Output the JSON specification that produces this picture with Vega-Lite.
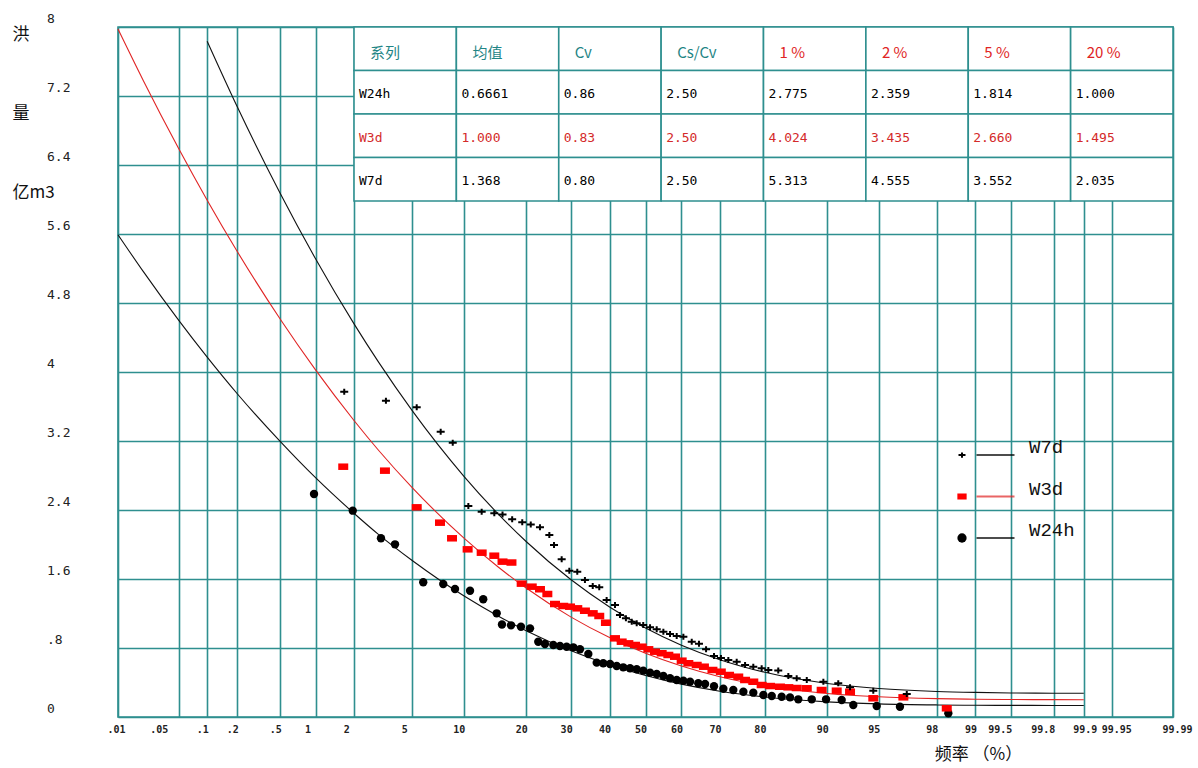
{
  "$schema": "https://vega.github.io/schema/vega-lite/v6.json",
  "width": 1055,
  "height": 690,
  "autosize": {"type": "none"},
  "padding": {"left": 118, "top": 27, "right": 25, "bottom": 51},
  "background": "white",
  "config": {"view": {"stroke": "#2e8f8f", "strokeWidth": 1.6}},
  "datasets": {
    "curves": [
      {"series": "W7d", "p": 0.1, "z": -3.0902, "value": 7.834},
      {"series": "W7d", "p": 0.2, "z": -2.8782, "value": 7.075},
      {"series": "W7d", "p": 0.5, "z": -2.5758, "value": 6.072},
      {"series": "W7d", "p": 1, "z": -2.3263, "value": 5.313},
      {"series": "W7d", "p": 2, "z": -2.0537, "value": 4.555},
      {"series": "W7d", "p": 3, "z": -1.8808, "value": 4.111},
      {"series": "W7d", "p": 5, "z": -1.6449, "value": 3.552},
      {"series": "W7d", "p": 10, "z": -1.2816, "value": 2.794},
      {"series": "W7d", "p": 15, "z": -1.0364, "value": 2.35},
      {"series": "W7d", "p": 20, "z": -0.8416, "value": 2.035},
      {"series": "W7d", "p": 30, "z": -0.5244, "value": 1.591},
      {"series": "W7d", "p": 40, "z": -0.2533, "value": 1.276},
      {"series": "W7d", "p": 50, "z": 0, "value": 1.032},
      {"series": "W7d", "p": 60, "z": 0.2533, "value": 0.833},
      {"series": "W7d", "p": 70, "z": 0.5244, "value": 0.664},
      {"series": "W7d", "p": 80, "z": 0.8416, "value": 0.518},
      {"series": "W7d", "p": 90, "z": 1.2816, "value": 0.389},
      {"series": "W7d", "p": 95, "z": 1.6449, "value": 0.33},
      {"series": "W7d", "p": 98, "z": 2.0537, "value": 0.296},
      {"series": "W7d", "p": 99, "z": 2.3263, "value": 0.285},
      {"series": "W7d", "p": 99.5, "z": 2.5758, "value": 0.279},
      {"series": "W7d", "p": 99.8, "z": 2.8782, "value": 0.276},
      {"series": "W7d", "p": 99.9, "z": 3.0902, "value": 0.275},
      {"series": "W3d", "p": 0.01, "z": -3.719, "value": 7.976},
      {"series": "W3d", "p": 0.02, "z": -3.5401, "value": 7.377},
      {"series": "W3d", "p": 0.05, "z": -3.2905, "value": 6.588},
      {"series": "W3d", "p": 0.1, "z": -3.0902, "value": 5.992},
      {"series": "W3d", "p": 0.2, "z": -2.8782, "value": 5.397},
      {"series": "W3d", "p": 0.5, "z": -2.5758, "value": 4.614},
      {"series": "W3d", "p": 1, "z": -2.3263, "value": 4.024},
      {"series": "W3d", "p": 2, "z": -2.0537, "value": 3.435},
      {"series": "W3d", "p": 3, "z": -1.8808, "value": 3.09},
      {"series": "W3d", "p": 5, "z": -1.6449, "value": 2.66},
      {"series": "W3d", "p": 10, "z": -1.2816, "value": 2.076},
      {"series": "W3d", "p": 15, "z": -1.0364, "value": 1.736},
      {"series": "W3d", "p": 20, "z": -0.8416, "value": 1.495},
      {"series": "W3d", "p": 30, "z": -0.5244, "value": 1.158},
      {"series": "W3d", "p": 40, "z": -0.2533, "value": 0.921},
      {"series": "W3d", "p": 50, "z": 0, "value": 0.738},
      {"series": "W3d", "p": 60, "z": 0.2533, "value": 0.591},
      {"series": "W3d", "p": 70, "z": 0.5244, "value": 0.467},
      {"series": "W3d", "p": 80, "z": 0.8416, "value": 0.363},
      {"series": "W3d", "p": 90, "z": 1.2816, "value": 0.273},
      {"series": "W3d", "p": 95, "z": 1.6449, "value": 0.234},
      {"series": "W3d", "p": 98, "z": 2.0537, "value": 0.213},
      {"series": "W3d", "p": 99, "z": 2.3263, "value": 0.206},
      {"series": "W3d", "p": 99.5, "z": 2.5758, "value": 0.203},
      {"series": "W3d", "p": 99.8, "z": 2.8782, "value": 0.201},
      {"series": "W3d", "p": 99.9, "z": 3.0902, "value": 0.2},
      {"series": "W24h", "p": 0.01, "z": -3.719, "value": 5.592},
      {"series": "W24h", "p": 0.02, "z": -3.5401, "value": 5.163},
      {"series": "W24h", "p": 0.05, "z": -3.2905, "value": 4.598},
      {"series": "W24h", "p": 0.1, "z": -3.0902, "value": 4.172},
      {"series": "W24h", "p": 0.2, "z": -2.8782, "value": 3.748},
      {"series": "W24h", "p": 0.5, "z": -2.5758, "value": 3.196},
      {"series": "W24h", "p": 1, "z": -2.3263, "value": 2.775},
      {"series": "W24h", "p": 2, "z": -2.0537, "value": 2.359},
      {"series": "W24h", "p": 3, "z": -1.8808, "value": 2.114},
      {"series": "W24h", "p": 5, "z": -1.6449, "value": 1.814},
      {"series": "W24h", "p": 10, "z": -1.2816, "value": 1.405},
      {"series": "W24h", "p": 15, "z": -1.0364, "value": 1.168},
      {"series": "W24h", "p": 20, "z": -0.8416, "value": 1.0},
      {"series": "W24h", "p": 30, "z": -0.5244, "value": 0.767},
      {"series": "W24h", "p": 40, "z": -0.2533, "value": 0.605},
      {"series": "W24h", "p": 50, "z": 0, "value": 0.481},
      {"series": "W24h", "p": 60, "z": 0.2533, "value": 0.381},
      {"series": "W24h", "p": 70, "z": 0.5244, "value": 0.299},
      {"series": "W24h", "p": 80, "z": 0.8416, "value": 0.232},
      {"series": "W24h", "p": 90, "z": 1.2816, "value": 0.175},
      {"series": "W24h", "p": 95, "z": 1.6449, "value": 0.152},
      {"series": "W24h", "p": 98, "z": 2.0537, "value": 0.14},
      {"series": "W24h", "p": 99, "z": 2.3263, "value": 0.136},
      {"series": "W24h", "p": 99.5, "z": 2.5758, "value": 0.135},
      {"series": "W24h", "p": 99.8, "z": 2.8782, "value": 0.134},
      {"series": "W24h", "p": 99.9, "z": 3.0902, "value": 0.133}
    ],
    "points": [
      {"series": "W24h", "z": -2.337, "value": 2.586},
      {"series": "W24h", "z": -2.064, "value": 2.392},
      {"series": "W24h", "z": -1.865, "value": 2.072},
      {"series": "W24h", "z": -1.766, "value": 2.002},
      {"series": "W24h", "z": -1.567, "value": 1.562},
      {"series": "W24h", "z": -1.426, "value": 1.542},
      {"series": "W24h", "z": -1.343, "value": 1.484},
      {"series": "W24h", "z": -1.237, "value": 1.464},
      {"series": "W24h", "z": -1.144, "value": 1.365},
      {"series": "W24h", "z": -1.049, "value": 1.202},
      {"series": "W24h", "z": -1.012, "value": 1.072},
      {"series": "W24h", "z": -0.948, "value": 1.063},
      {"series": "W24h", "z": -0.878, "value": 1.047},
      {"series": "W24h", "z": -0.814, "value": 1.028},
      {"series": "W24h", "z": -0.756, "value": 0.873},
      {"series": "W24h", "z": -0.709, "value": 0.846},
      {"series": "W24h", "z": -0.65, "value": 0.835},
      {"series": "W24h", "z": -0.603, "value": 0.823},
      {"series": "W24h", "z": -0.556, "value": 0.815},
      {"series": "W24h", "z": -0.509, "value": 0.808},
      {"series": "W24h", "z": -0.462, "value": 0.785},
      {"series": "W24h", "z": -0.403, "value": 0.73},
      {"series": "W24h", "z": -0.344, "value": 0.63},
      {"series": "W24h", "z": -0.298, "value": 0.623},
      {"series": "W24h", "z": -0.25, "value": 0.615},
      {"series": "W24h", "z": -0.203, "value": 0.591},
      {"series": "W24h", "z": -0.157, "value": 0.576},
      {"series": "W24h", "z": -0.109, "value": 0.565},
      {"series": "W24h", "z": -0.062, "value": 0.553},
      {"series": "W24h", "z": -0.016, "value": 0.537},
      {"series": "W24h", "z": 0.032, "value": 0.514},
      {"series": "W24h", "z": 0.079, "value": 0.499},
      {"series": "W24h", "z": 0.126, "value": 0.475},
      {"series": "W24h", "z": 0.173, "value": 0.449},
      {"series": "W24h", "z": 0.22, "value": 0.429},
      {"series": "W24h", "z": 0.267, "value": 0.421},
      {"series": "W24h", "z": 0.314, "value": 0.409},
      {"series": "W24h", "z": 0.372, "value": 0.391},
      {"series": "W24h", "z": 0.42, "value": 0.383},
      {"series": "W24h", "z": 0.483, "value": 0.356},
      {"series": "W24h", "z": 0.549, "value": 0.327},
      {"series": "W24h", "z": 0.619, "value": 0.313},
      {"series": "W24h", "z": 0.69, "value": 0.293},
      {"series": "W24h", "z": 0.76, "value": 0.282},
      {"series": "W24h", "z": 0.831, "value": 0.255},
      {"series": "W24h", "z": 0.89, "value": 0.244},
      {"series": "W24h", "z": 0.96, "value": 0.235},
      {"series": "W24h", "z": 1.019, "value": 0.228},
      {"series": "W24h", "z": 1.077, "value": 0.205},
      {"series": "W24h", "z": 1.172, "value": 0.205},
      {"series": "W24h", "z": 1.273, "value": 0.205},
      {"series": "W24h", "z": 1.383, "value": 0.197},
      {"series": "W24h", "z": 1.465, "value": 0.139},
      {"series": "W24h", "z": 1.63, "value": 0.128},
      {"series": "W24h", "z": 1.794, "value": 0.119},
      {"series": "W24h", "z": 2.135, "value": 0.043},
      {"series": "W3d", "z": -2.131, "value": 2.902},
      {"series": "W3d", "z": -1.837, "value": 2.856},
      {"series": "W3d", "z": -1.613, "value": 2.431},
      {"series": "W3d", "z": -1.449, "value": 2.253},
      {"series": "W3d", "z": -1.364, "value": 2.072},
      {"series": "W3d", "z": -1.254, "value": 1.944},
      {"series": "W3d", "z": -1.155, "value": 1.905},
      {"series": "W3d", "z": -1.066, "value": 1.87},
      {"series": "W3d", "z": -1.008, "value": 1.801},
      {"series": "W3d", "z": -0.945, "value": 1.791},
      {"series": "W3d", "z": -0.873, "value": 1.546},
      {"series": "W3d", "z": -0.802, "value": 1.511},
      {"series": "W3d", "z": -0.744, "value": 1.481},
      {"series": "W3d", "z": -0.692, "value": 1.426},
      {"series": "W3d", "z": -0.638, "value": 1.31},
      {"series": "W3d", "z": -0.58, "value": 1.287},
      {"series": "W3d", "z": -0.532, "value": 1.279},
      {"series": "W3d", "z": -0.481, "value": 1.26},
      {"series": "W3d", "z": -0.427, "value": 1.232},
      {"series": "W3d", "z": -0.372, "value": 1.202},
      {"series": "W3d", "z": -0.326, "value": 1.171},
      {"series": "W3d", "z": -0.279, "value": 1.093},
      {"series": "W3d", "z": -0.215, "value": 0.912},
      {"series": "W3d", "z": -0.168, "value": 0.873},
      {"series": "W3d", "z": -0.121, "value": 0.854},
      {"series": "W3d", "z": -0.074, "value": 0.835},
      {"series": "W3d", "z": -0.027, "value": 0.815},
      {"series": "W3d", "z": 0.02, "value": 0.785},
      {"series": "W3d", "z": 0.067, "value": 0.757},
      {"series": "W3d", "z": 0.114, "value": 0.739},
      {"series": "W3d", "z": 0.161, "value": 0.719},
      {"series": "W3d", "z": 0.208, "value": 0.699},
      {"series": "W3d", "z": 0.255, "value": 0.653},
      {"series": "W3d", "z": 0.302, "value": 0.623},
      {"series": "W3d", "z": 0.361, "value": 0.603},
      {"series": "W3d", "z": 0.412, "value": 0.583},
      {"series": "W3d", "z": 0.472, "value": 0.545},
      {"series": "W3d", "z": 0.531, "value": 0.525},
      {"series": "W3d", "z": 0.589, "value": 0.487},
      {"series": "W3d", "z": 0.654, "value": 0.467},
      {"series": "W3d", "z": 0.702, "value": 0.429},
      {"series": "W3d", "z": 0.76, "value": 0.409},
      {"series": "W3d", "z": 0.819, "value": 0.371},
      {"series": "W3d", "z": 0.878, "value": 0.359},
      {"series": "W3d", "z": 0.948, "value": 0.351},
      {"series": "W3d", "z": 1.007, "value": 0.344},
      {"series": "W3d", "z": 1.066, "value": 0.336},
      {"series": "W3d", "z": 1.137, "value": 0.333},
      {"series": "W3d", "z": 1.242, "value": 0.313},
      {"series": "W3d", "z": 1.348, "value": 0.305},
      {"series": "W3d", "z": 1.442, "value": 0.293},
      {"series": "W3d", "z": 1.606, "value": 0.217},
      {"series": "W3d", "z": 1.818, "value": 0.228},
      {"series": "W3d", "z": 2.124, "value": 0.101},
      {"series": "W7d", "z": -2.124, "value": 3.772},
      {"series": "W7d", "z": -1.83, "value": 3.667},
      {"series": "W7d", "z": -1.613, "value": 3.591},
      {"series": "W7d", "z": -1.444, "value": 3.308},
      {"series": "W7d", "z": -1.359, "value": 3.18},
      {"series": "W7d", "z": -1.249, "value": 2.446},
      {"series": "W7d", "z": -1.155, "value": 2.38},
      {"series": "W7d", "z": -1.066, "value": 2.362},
      {"series": "W7d", "z": -1.008, "value": 2.348},
      {"series": "W7d", "z": -0.94, "value": 2.292},
      {"series": "W7d", "z": -0.869, "value": 2.259},
      {"series": "W7d", "z": -0.809, "value": 2.232},
      {"series": "W7d", "z": -0.744, "value": 2.199},
      {"series": "W7d", "z": -0.678, "value": 2.11},
      {"series": "W7d", "z": -0.645, "value": 1.994},
      {"series": "W7d", "z": -0.591, "value": 1.828},
      {"series": "W7d", "z": -0.537, "value": 1.696},
      {"series": "W7d", "z": -0.481, "value": 1.685},
      {"series": "W7d", "z": -0.427, "value": 1.588},
      {"series": "W7d", "z": -0.372, "value": 1.519},
      {"series": "W7d", "z": -0.326, "value": 1.504},
      {"series": "W7d", "z": -0.274, "value": 1.357},
      {"series": "W7d", "z": -0.215, "value": 1.299},
      {"series": "W7d", "z": -0.18, "value": 1.183},
      {"series": "W7d", "z": -0.138, "value": 1.144},
      {"series": "W7d", "z": -0.097, "value": 1.105},
      {"series": "W7d", "z": -0.062, "value": 1.086},
      {"series": "W7d", "z": -0.016, "value": 1.067},
      {"series": "W7d", "z": 0.032, "value": 1.04},
      {"series": "W7d", "z": 0.079, "value": 1.017},
      {"series": "W7d", "z": 0.126, "value": 0.989},
      {"series": "W7d", "z": 0.173, "value": 0.962},
      {"series": "W7d", "z": 0.22, "value": 0.939},
      {"series": "W7d", "z": 0.267, "value": 0.93},
      {"series": "W7d", "z": 0.326, "value": 0.873},
      {"series": "W7d", "z": 0.377, "value": 0.85},
      {"series": "W7d", "z": 0.427, "value": 0.785},
      {"series": "W7d", "z": 0.483, "value": 0.707},
      {"series": "W7d", "z": 0.532, "value": 0.684},
      {"series": "W7d", "z": 0.584, "value": 0.661},
      {"series": "W7d", "z": 0.643, "value": 0.641},
      {"series": "W7d", "z": 0.702, "value": 0.603},
      {"series": "W7d", "z": 0.76, "value": 0.583},
      {"series": "W7d", "z": 0.819, "value": 0.565},
      {"series": "W7d", "z": 0.866, "value": 0.545},
      {"series": "W7d", "z": 0.936, "value": 0.54},
      {"series": "W7d", "z": 1.007, "value": 0.475},
      {"series": "W7d", "z": 1.066, "value": 0.449},
      {"series": "W7d", "z": 1.137, "value": 0.429},
      {"series": "W7d", "z": 1.254, "value": 0.409},
      {"series": "W7d", "z": 1.359, "value": 0.391},
      {"series": "W7d", "z": 1.442, "value": 0.344},
      {"series": "W7d", "z": 1.606, "value": 0.305},
      {"series": "W7d", "z": 1.842, "value": 0.267}
    ],
    "table": [
      {"row": "h", "col": "c1", "text": "系列"},
      {"row": "h", "col": "c2", "text": "均值"},
      {"row": "h", "col": "c3", "text": "Cv"},
      {"row": "h", "col": "c4", "text": "Cs/Cv"},
      {"row": "h", "col": "c5", "text": "1 %"},
      {"row": "h", "col": "c6", "text": "2 %"},
      {"row": "h", "col": "c7", "text": "5 %"},
      {"row": "h", "col": "c8", "text": "20 %"},
      {"row": "W24h", "col": "c1", "text": "W24h"},
      {"row": "W24h", "col": "c2", "text": "0.6661"},
      {"row": "W24h", "col": "c3", "text": "0.86"},
      {"row": "W24h", "col": "c4", "text": "2.50"},
      {"row": "W24h", "col": "c5", "text": "2.775"},
      {"row": "W24h", "col": "c6", "text": "2.359"},
      {"row": "W24h", "col": "c7", "text": "1.814"},
      {"row": "W24h", "col": "c8", "text": "1.000"},
      {"row": "W3d", "col": "c1", "text": "W3d"},
      {"row": "W3d", "col": "c2", "text": "1.000"},
      {"row": "W3d", "col": "c3", "text": "0.83"},
      {"row": "W3d", "col": "c4", "text": "2.50"},
      {"row": "W3d", "col": "c5", "text": "4.024"},
      {"row": "W3d", "col": "c6", "text": "3.435"},
      {"row": "W3d", "col": "c7", "text": "2.660"},
      {"row": "W3d", "col": "c8", "text": "1.495"},
      {"row": "W7d", "col": "c1", "text": "W7d"},
      {"row": "W7d", "col": "c2", "text": "1.368"},
      {"row": "W7d", "col": "c3", "text": "0.80"},
      {"row": "W7d", "col": "c4", "text": "2.50"},
      {"row": "W7d", "col": "c5", "text": "5.313"},
      {"row": "W7d", "col": "c6", "text": "4.555"},
      {"row": "W7d", "col": "c7", "text": "3.552"},
      {"row": "W7d", "col": "c8", "text": "2.035"}
    ],
    "legend": [
      {"series": "W7d"},
      {"series": "W3d"},
      {"series": "W24h"}
    ]
  },
  "layer": [
    {
      "encoding": {
        "x": {
          "field": "z",
          "type": "quantitative",
          "scale": {"domain": [-3.719, 3.719], "nice": false, "zero": false},
          "axis": {
            "values": [-3.719, -3.2905, -3.0902, -2.8782, -2.5758, -2.3263, -2.0537, -1.6449, -1.2816, -0.8416, -0.5244, -0.2533, 0, 0.2533, 0.5244, 0.8416, 1.2816, 1.6449, 2.0537, 2.3263, 2.5758, 2.8782, 3.0902, 3.2905, 3.719],
            "labelExpr": "['.01','.05','.1','.2','.5','1','2','5','10','20','30','40','50','60','70','80','90','95','98','99','99.5','99.8','99.9','99.95','99.99'][indexof([-3.719,-3.2905,-3.0902,-2.8782,-2.5758,-2.3263,-2.0537,-1.6449,-1.2816,-0.8416,-0.5244,-0.2533,0,0.2533,0.5244,0.8416,1.2816,1.6449,2.0537,2.3263,2.5758,2.8782,3.0902,3.2905,3.719], datum.value)]",
            "grid": true,
            "gridColor": "#2e8f8f",
            "gridWidth": 1.6,
            "gridOpacity": 1,
            "domain": false,
            "ticks": false,
            "tickSize": 0,
            "labelAlign": {"condition": [{"test": "datum.value === -3.2905", "value": "right"}, {"test": "datum.value === 2.5758 || datum.value === 2.8782", "value": "center"}], "value": "left"},
            "labelOffset": -11,
            "labelBaseline": "middle",
            "labelPadding": 12,
            "labelFlush": false,
            "labelOverlap": false,
            "labelBound": false,
            "labelFont": "DejaVu Sans Mono",
            "labelFontSize": 10,
            "labelFontWeight": "bold",
            "labelColor": "#222222",
            "title": "频率 （%）",
            "titleX": 860,
            "titleY": 37,
            "titleAlign": "center",
            "titleBaseline": "middle",
            "titleFont": "Noto Sans CJK SC",
            "titleFontSize": 17,
            "titleFontWeight": "normal",
            "titleColor": "#111111"
          }
        },
        "y": {
          "field": "value",
          "type": "quantitative",
          "scale": {"domain": [0, 8], "nice": false, "zero": true},
          "axis": {
            "values": [0, 0.8, 1.6, 2.4, 3.2, 4, 4.8, 5.6, 6.4, 7.2, 8],
            "labelExpr": "['0','.8','1.6','2.4','3.2','4','4.8','5.6','6.4','7.2','8'][round(datum.value / 0.8)]",
            "grid": true,
            "gridColor": "#2e8f8f",
            "gridWidth": 1.6,
            "gridOpacity": 1,
            "domain": false,
            "ticks": false,
            "tickSize": 0,
            "labelAlign": "left",
            "labelBaseline": "middle",
            "labelPadding": 71.5,
            "labelOffset": -9,
            "labelFlush": false,
            "labelOverlap": false,
            "labelBound": false,
            "labelFont": "DejaVu Sans Mono",
            "labelFontSize": 13,
            "labelColor": "#222222",
            "title": ["洪", "量", "亿m3"],
            "titleAngle": 0,
            "titleAlign": "left",
            "titleBaseline": "top",
            "titleX": -106,
            "titleY": -1,
            "titleLineHeight": 79,
            "titleFont": "Noto Sans CJK SC",
            "titleFontSize": 17,
            "titleFontWeight": "normal",
            "titleColor": "#111111"
          }
        }
      },
      "layer": [
        {
          "data": {"name": "curves"},
          "mark": {"type": "line", "strokeWidth": 1.1, "interpolate": "monotone"},
          "encoding": {
            "color": {"field": "series", "type": "nominal", "scale": {"domain": ["W24h", "W3d", "W7d"], "range": ["#111111", "#e02424", "#111111"]}, "legend": null}
          }
        },
        {
          "data": {"name": "points"},
          "transform": [{"filter": "datum.series === 'W24h'"}],
          "mark": {"type": "point", "shape": "circle", "filled": true, "color": "#000000", "size": 70, "opacity": 1}
        },
        {
          "data": {"name": "points"},
          "transform": [{"filter": "datum.series === 'W3d'"}],
          "mark": {"type": "point", "shape": "M-1,-0.65H1V0.65H-1Z", "filled": true, "color": "#ff0000", "size": 100, "opacity": 1}
        },
        {
          "data": {"name": "points"},
          "transform": [{"filter": "datum.series === 'W7d'"}],
          "mark": {"type": "point", "shape": "M-1,0H1M0,-0.75V0.75", "filled": false, "color": "#000000", "strokeWidth": 2, "size": 64, "opacity": 1}
        }
      ]
    },
    {
      "data": {"name": "table"},
      "encoding": {
        "x": {"field": "col", "type": "nominal", "scale": {"type": "band", "domain": ["c1", "c2", "c3", "c4", "c5", "c6", "c7", "c8"], "paddingInner": 0, "paddingOuter": 0, "range": [236, 1055]}, "axis": null},
        "y": {"field": "row", "type": "nominal", "scale": {"type": "band", "domain": ["h", "W24h", "W3d", "W7d"], "paddingInner": 0, "paddingOuter": 0, "range": [0, 174]}, "axis": null}
      },
      "layer": [
        {"mark": {"type": "rect", "fill": "white", "stroke": "#2e8f8f", "strokeWidth": 1.6}},
        {
          "transform": [{"filter": "datum.row === 'h'"}],
          "mark": {"type": "text", "align": "left", "baseline": "middle", "dx": 16, "dy": 4, "font": "Noto Sans CJK SC", "fontSize": 15},
          "encoding": {
            "x": {"field": "col", "type": "nominal", "bandPosition": 0, "scale": {"type": "band", "domain": ["c1", "c2", "c3", "c4", "c5", "c6", "c7", "c8"], "paddingInner": 0, "paddingOuter": 0, "range": [236, 1055]}, "axis": null},
            "text": {"field": "text"},
            "color": {"condition": {"test": "indexof(['c1','c2','c3','c4'], datum.col) >= 0", "value": "#1f8585"}, "value": "#e02424"}
          }
        },
        {
          "transform": [{"filter": "datum.row !== 'h'"}],
          "mark": {"type": "text", "align": "left", "baseline": "middle", "dx": 5, "dy": 2, "font": "DejaVu Sans Mono", "fontSize": 13},
          "encoding": {
            "x": {"field": "col", "type": "nominal", "bandPosition": 0, "scale": {"type": "band", "domain": ["c1", "c2", "c3", "c4", "c5", "c6", "c7", "c8"], "paddingInner": 0, "paddingOuter": 0, "range": [236, 1055]}, "axis": null},
            "text": {"field": "text"},
            "color": {"condition": {"test": "datum.row === 'W3d'", "value": "#d42a2a"}, "value": "#000000"}
          }
        }
      ]
    },
    {
      "data": {"name": "legend"},
      "encoding": {
        "y": {"field": "series", "type": "nominal", "scale": {"type": "point", "domain": ["W7d", "W3d", "W24h"], "padding": 0, "range": [428, 511]}, "axis": null}
      },
      "layer": [
        {
          "mark": {"type": "tick", "orient": "horizontal", "size": 38, "thickness": 1.8},
          "encoding": {
            "x": {"datum": "line", "type": "nominal", "scale": {"type": "point", "domain": ["sym", "line", "lab"], "padding": 0, "range": [844, 911]}, "axis": null},
            "color": {"condition": {"test": "datum.series === 'W3d'", "value": "#e02424"}, "value": "#000000"}
          }
        },
        {
          "mark": {"type": "text", "align": "left", "baseline": "middle", "dy": -8, "font": "Liberation Mono", "fontSize": 19, "color": "#111111"},
          "encoding": {
            "x": {"datum": "lab", "type": "nominal", "scale": {"type": "point", "domain": ["sym", "line", "lab"], "padding": 0, "range": [844, 911]}, "axis": null},
            "text": {"field": "series"}
          }
        },
        {
          "transform": [{"filter": "datum.series === 'W7d'"}],
          "mark": {"type": "point", "shape": "M-1,0H1M0,-0.75V0.75", "filled": false, "color": "#000000", "strokeWidth": 2, "size": 49, "opacity": 1},
          "encoding": {
            "x": {"datum": "sym", "type": "nominal", "scale": {"type": "point", "domain": ["sym", "line", "lab"], "padding": 0, "range": [844, 911]}, "axis": null}
          }
        },
        {
          "transform": [{"filter": "datum.series === 'W3d'"}],
          "mark": {"type": "point", "shape": "M-1,-0.65H1V0.65H-1Z", "filled": true, "color": "#ff0000", "size": 86, "opacity": 1},
          "encoding": {
            "x": {"datum": "sym", "type": "nominal", "scale": {"type": "point", "domain": ["sym", "line", "lab"], "padding": 0, "range": [844, 911]}, "axis": null}
          }
        },
        {
          "transform": [{"filter": "datum.series === 'W24h'"}],
          "mark": {"type": "point", "shape": "circle", "filled": true, "color": "#000000", "size": 86, "opacity": 1},
          "encoding": {
            "x": {"datum": "sym", "type": "nominal", "scale": {"type": "point", "domain": ["sym", "line", "lab"], "padding": 0, "range": [844, 911]}, "axis": null}
          }
        }
      ]
    }
  ],
  "resolve": {"scale": {"x": "independent", "y": "independent"}}
}
